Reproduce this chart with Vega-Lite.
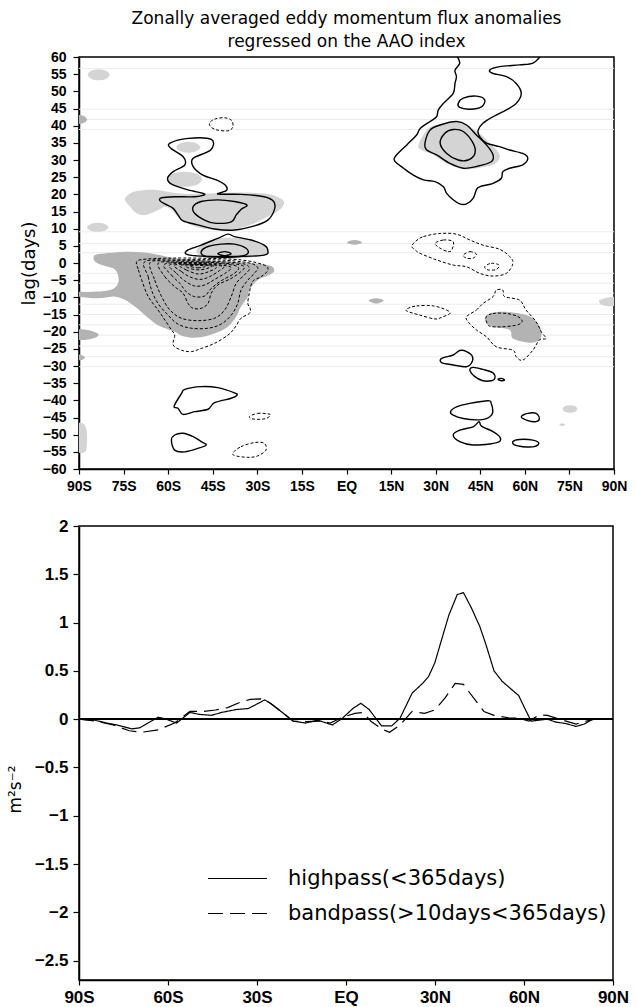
{
  "$schema": "https://vega.github.io/schema/vega-lite/v6.json",
  "background": "white",
  "padding": {"left": 5, "top": 9, "right": 5, "bottom": 5},
  "spacing": 22,
  "config": {
    "view": {"stroke": "black", "strokeWidth": 1.5},
    "axis": {"domainColor": "black", "domainWidth": 1.5, "tickColor": "black", "tickWidth": 1.2, "labelColor": "black", "titleColor": "black", "grid": false, "labelFont": "Liberation Sans", "labelFontWeight": "bold", "titleFont": "DejaVu Sans", "titleFontWeight": "normal", "labelFlush": false, "labelOverlap": false}
  },
  "datasets": {
    "faint": [{"lag": 56.7}, {"lag": 44.8}, {"lag": 41.8}, {"lag": 38.9}, {"lag": 9.1}, {"lag": 5.7}, {"lag": 3.0}, {"lag": -3.0}, {"lag": -5.9}, {"lag": -8.8}, {"lag": -12}, {"lag": -15}, {"lag": -18}, {"lag": -21}, {"lag": -24.2}, {"lag": -27.3}, {"lag": -30.2}],
    "light": [
      {"id": "L1", "lat": [-87.1, -86.0, -83.4, -80.8, -79.7, -80.8, -83.4, -86.0], "lag": [54.8, 55.9, 56.4, 55.9, 54.8, 53.7, 53.2, 53.7]},
      {"id": "L2", "lat": [-57.2, -56, -53.2, -50.4, -49.2, -50.4, -53.2, -56], "lag": [33.7, 34.8, 35.3, 34.8, 33.7, 32.6, 32.1, 32.6]},
      {"id": "L3", "lat": [-60.4, -58.7, -54.5, -50.3, -48.6, -50.3, -54.5, -58.7], "lag": [24.4, 26, 26.6, 26, 24.4, 22.8, 22.2, 22.8]},
      {"id": "L4", "lat": [-87.3, -86.2, -83.7, -81.2, -80.1, -81.2, -83.7, -86.2], "lag": [10.4, 11.3, 11.7, 11.3, 10.4, 9.5, 9.1, 9.5]},
      {"id": "L5", "lat": [-74.5, -71.2, -64.5, -58.9, -53.3, -44.4, -35.5, -26.5, -21.5, -21.5, -24.3, -28.8, -33.2, -39.9, -46.6, -52.2, -56.7, -58.9, -61.1, -63.4, -67.8, -70.6, -72.8], "lag": [18.8, 20.8, 21.3, 20.5, 20.1, 20.3, 20.5, 20.1, 18.4, 16.4, 14.5, 12.5, 10.8, 9.6, 9.8, 11.1, 13.5, 15.6, 16.4, 15.4, 14.0, 14.5, 16.4]},
      {"id": "L6", "lat": [-50.5, -47.7, -42.2, -35.5, -29.3, -26.5, -27.1, -35.5, -46.6], "lag": [3.3, 5.7, 7.2, 7.2, 6.2, 4.3, 2.3, 1.4, 1.4]},
      {"id": "L7", "lat": [-90, -88.3, -87.4, -87.3, -87.6, -88.5, -90, -92, -92], "lag": [-46.5, -47, -49, -52, -54.5, -55.3, -55.3, -55, -47]},
      {"id": "L8", "lat": [24.2, 27.0, 30.3, 37.0, 40.4, 44.8, 48.2, 51.0, 51.5, 49.3, 43.7, 39.3, 33.7, 29.2, 25.3], "lag": [34.4, 38.7, 40.2, 40.9, 40.2, 37.8, 34.9, 32.4, 30.5, 28.6, 27.6, 27.3, 29.0, 31.5, 32.9]},
      {"id": "L9", "lat": [90, 87.5, 85.2, 85, 85.5, 87.5, 90, 92, 92], "lag": [-9.8, -10.1, -10.8, -11.2, -12, -12.5, -12.5, -12, -10]},
      {"id": "L10", "lat": [72.7, 73.5, 75.2, 76.9, 77.7, 76.9, 75.2, 73.5], "lag": [-42.5, -41.7, -41.4, -41.7, -42.5, -43.3, -43.6, -43.3]},
      {"id": "L11", "lat": [71.6, 72.6, 73.6, 72.6], "lag": [-47.1, -46.7, -47.1, -47.5]}
    ],
    "dark": [
      {"id": "D1", "lat": [-90, -88.1, -87.3, -88.1, -90, -92, -92], "lag": [43.1, 42.7, 41.8, 40.9, 40.5, 41, 42.6]},
      {"id": "D2", "lat": [-85.1, -83.4, -73.4, -65.6, -57.8, -48.9, -37.7, -26.5, -24.3, -26.0, -29.9, -32.7, -33.2, -35.5, -37.1, -39.9, -44.4, -50.0, -55.0, -57.8, -63.4, -67.8, -71.2, -74.5, -77.8, -83.4, -90, -92, -92, -90, -85.7, -79.0, -76.7, -77.8, -82.3, -84.5], "lag": [1.6, 2.6, 3.3, 2.8, 1.4, 0.9, 0.4, -0.6, -2.2, -3.5, -5.0, -7.9, -9.8, -12.7, -15.6, -18.6, -20.5, -21.7, -21.3, -20.0, -18.1, -15.2, -12.7, -10.8, -9.8, -10.3, -9.8, -9.5, -8.4, -8.4, -8.4, -7.7, -5.4, -2.0, -0.6, 0.4]},
      {"id": "D3", "lat": [-90, -87, -84.2, -83.4, -84.2, -87, -90, -92, -92], "lag": [-19.3, -19.5, -20.3, -20.9, -21.6, -22.3, -22.4, -21.5, -20]},
      {"id": "D4", "lat": [-90, -88.7, -88, -88.7, -90, -91], "lag": [-26.7, -27, -27.5, -28.1, -28.3, -27.5]},
      {"id": "D5", "lat": [0.2, 1.2, 2.7, 4.2, 5.2, 4.2, 2.7, 1.2], "lag": [6.0, 6.5, 6.7, 6.5, 6.0, 5.5, 5.3, 5.5]},
      {"id": "D6", "lat": [7.5, 8.5, 10, 11.5, 12.5, 11.5, 10, 8.5], "lag": [-11, -10.5, -10.3, -10.5, -11, -11.5, -11.8, -11.5]},
      {"id": "D7", "lat": [47.1, 51.5, 58.2, 62.7, 65.5, 64.9, 61.6, 56.0, 54.9, 49.3, 46.8], "lag": [-15.2, -14.2, -14.7, -16.1, -19.5, -22.4, -23.2, -22.0, -19.5, -18.6, -17.1]}
    ],
    "solid": [
      {"id": "S1", "lat": [-59.4, -53.3, -45.5, -45.7, -51.6, -51.6, -48.3, -43.8, -40.8, -40.4, -43.3, -35.5, -27.7, -24.5, -24.3, -26.5, -31.0, -37.7, -44.4, -50.0, -55.0, -56.7, -58.3, -61.1, -62.8, -62.2, -57.8, -51.1, -47.7, -53.3, -58.9, -60.2, -58.3, -54.4, -55.0, -59.1], "lag": [34.9, 36.3, 36.0, 32.9, 30.5, 28.1, 25.6, 24.2, 22.7, 21.1, 20.1, 20.0, 19.3, 17.9, 15.4, 12.5, 10.8, 9.6, 9.9, 11.1, 12.3, 14.0, 15.9, 17.2, 18.2, 19.0, 19.3, 19.3, 20.1, 21.3, 23.0, 24.7, 26.6, 28.6, 31.0, 33.4]},
      {"id": "S2", "lat": [-51.6, -48.9, -43.3, -37.7, -33.5, -35.5, -37.1, -38.8, -44.4, -47.7, -51.1], "lag": [16.4, 17.9, 18.4, 17.9, 16.9, 15.6, 14.0, 12.0, 11.6, 12.5, 14.5]},
      {"id": "S3", "lat": [-53.9, -53.3, -48.9, -43.3, -39.9, -37.7, -32.1, -27.7, -26.5, -27.7, -37.7, -48.9], "lag": [2.6, 3.8, 5.2, 7.2, 8.4, 7.7, 6.7, 5.2, 3.8, 2.3, 1.9, 2.0]},
      {"id": "S4", "lat": [-48.9, -46.6, -42.2, -37.7, -33.8, -33.2, -36.0, -43.3, -47.7], "lag": [3.3, 4.8, 5.5, 5.5, 4.3, 2.8, 1.9, 1.7, 2.0]},
      {"id": "S5", "lat": [-43.3, -41, -38.8, -41], "lag": [2.7, 3.3, 2.7, 2.1]},
      {"id": "S6", "lat": [-55.5, -54.4, -48.9, -43.3, -37.7, -36.8, -38.8, -44.4, -46.6, -51.1, -55.0, -56.7, -58.0], "lag": [-38.0, -36.8, -36.0, -36.3, -37.8, -38.5, -39.4, -40.7, -42.6, -43.3, -44.1, -42.3, -41.7]},
      {"id": "S7", "lat": [-58.9, -57.8, -55.0, -51.6, -48.9, -47.2, -50.0, -54.4, -57.8], "lag": [-51.6, -50.1, -49.6, -50.6, -52.0, -53.0, -54.0, -55.0, -54.5]},
      {"id": "S8", "lat": [26.4, 28.1, 31.5, 37.0, 40.4, 43.7, 47.1, 49.3, 48.7, 43.7, 39.3, 34.8, 30.3, 27.0], "lag": [34.9, 38.7, 40.2, 41.2, 40.2, 37.3, 34.4, 31.5, 29.5, 28.1, 27.6, 29.0, 31.5, 32.9]},
      {"id": "S9", "lat": [31.5, 33.1, 35.9, 39.3, 42.6, 43.2, 40.9, 37.6, 33.7], "lag": [34.9, 37.8, 38.9, 38.3, 34.9, 31.9, 30.0, 30.0, 31.9]},
      {"id": "S10", "lat": [37.6, 39.3, 43.7, 46.5, 45.4, 41.5, 38.1], "lag": [46.5, 48.0, 48.6, 47.5, 45.5, 44.8, 45.3]},
      {"id": "S11", "lat": [32.0, 35.9, 38.1, 40.4, 42.4, 42.0, 40.4, 35.9, 32.0], "lag": [-27.8, -26.8, -25.5, -25.8, -27.3, -29.2, -30.2, -29.7, -29.0]},
      {"id": "S12", "lat": [41.5, 42.6, 45.9, 49.3, 49.9, 48.7, 45.9, 43.2], "lag": [-31.2, -30.4, -31.0, -32.0, -33.6, -34.3, -34.3, -33.1]},
      {"id": "S13", "lat": [51.0, 52.1, 53.2, 52.1], "lag": [-33.9, -33.6, -34.1, -34.3]},
      {"id": "S14", "lat": [35.0, 37.0, 41.5, 47.6, 48.7, 49.1, 47.1, 43.7, 39.3, 35.9], "lag": [-43.3, -41.9, -40.9, -40.1, -40.9, -43.8, -45.3, -45.7, -45.3, -44.3]},
      {"id": "S15", "lat": [35.9, 38.1, 42.6, 44.6, 45.4, 49.3, 51.5, 51.5, 48.2, 42.6, 38.1], "lag": [-50.1, -48.7, -47.7, -46.2, -47.5, -49.1, -50.6, -52.0, -52.7, -53.0, -52.0]},
      {"id": "S16", "lat": [58.8, 61.0, 63.8, 64.9, 63.8, 61.0], "lag": [-44.8, -43.8, -43.8, -45.3, -46.2, -45.9]},
      {"id": "S17", "lat": [56.0, 58.2, 62.7, 64.7, 63.2, 59.3, 56.5], "lag": [-52.0, -51.4, -51.6, -52.5, -53.5, -53.5, -53.0]}
    ],
    "solidopen": [
      {"id": "N1", "lat": [37.0, 38.1, 36.5, 37.0, 36.5, 35.9, 32.6, 30.9, 30.3, 28.1, 24.8, 23.6, 20.3, 16.4, 16.4, 19.2, 22.5, 25.9, 29.8, 32.6, 33.7, 35.9, 38.1, 40.4, 42.6, 43.7, 44.8, 49.3, 52.1, 52.6, 54.9, 59.3, 61.0, 59.3, 54.9, 51.5, 47.1, 44.8, 44.3, 45.9, 49.3, 53.8, 57.1, 58.8, 57.1, 53.8, 49.3, 48.2, 51.5, 58.2, 62.7, 65.5], "lag": [60.5, 58.2, 56.2, 54.3, 52.3, 49.4, 46.5, 44.6, 42.6, 41.2, 39.2, 37.3, 34.4, 31.0, 29.5, 27.6, 25.6, 24.2, 23.7, 22.2, 20.3, 18.4, 17.2, 17.2, 18.8, 21.3, 22.2, 23.2, 24.7, 26.6, 27.6, 28.6, 30.5, 31.9, 32.9, 33.9, 34.9, 36.8, 38.7, 40.7, 42.6, 44.6, 46.5, 49.4, 52.3, 54.3, 55.2, 56.2, 57.2, 57.7, 58.2, 60.5]}
    ],
    "dashed": [
      {"id": "A", "lat": [-70.6, -70.0, -68.9, -66.7, -63.4, -61.1, -58.9, -57.8, -58.3, -55.5, -52.2, -48.9, -44.4, -39.9, -37.7, -35.5, -32.7, -32.4, -33.2, -32.7, -31.6, -28.8, -26.5, -27.7, -35.5, -48.9, -60.0, -67.8], "lag": [0.4, -2.0, -5.0, -9.8, -13.7, -16.6, -19.5, -21.0, -23.9, -25.4, -25.8, -24.9, -23.4, -21.0, -19.0, -16.1, -14.7, -13.2, -11.8, -8.8, -5.4, -4.0, -2.2, -0.6, 0.9, 1.4, 1.4, 1.1]},
      {"id": "B", "lat": [-67.8, -66.7, -65.6, -63.4, -60.0, -56.7, -52.2, -46.6, -42.2, -38.8, -36.6, -35.5, -33.2, -31.0, -29.9, -33.2, -43.3, -57.8], "lag": [0.4, -4.0, -7.9, -11.8, -15.2, -17.8, -19.0, -19.0, -17.8, -15.2, -11.8, -7.9, -5.0, -3.0, -1.3, 0.1, 0.9, 0.9]},
      {"id": "C", "lat": [-66.1, -64.5, -62.2, -59.4, -55.5, -50.0, -44.4, -41.0, -38.8, -37.1, -34.4, -32.7, -35.5, -48.9, -60.0], "lag": [0.1, -5.0, -9.8, -13.7, -16.1, -16.8, -16.1, -13.7, -9.8, -5.9, -3.5, -1.6, -0.1, 0.6, 0.6]},
      {"id": "D", "lat": [-63.4, -61.1, -57.8, -55.0, -53.3, -51.6, -48.9, -46.6, -45.5, -43.3, -38.8, -35.5, -34.4, -37.7, -48.9, -57.8], "lag": [-0.1, -4.0, -6.9, -8.8, -11.8, -13.2, -13.2, -11.8, -8.8, -6.4, -4.5, -2.5, -1.1, -0.3, 0.3, 0.3]},
      {"id": "E", "lat": [-61.1, -58.9, -56.1, -53.9, -51.1, -47.7, -45.5, -42.2, -37.7, -36.4, -39.9, -50.0], "lag": [-0.3, -3.5, -5.9, -8.4, -9.8, -9.6, -7.4, -5.2, -3.0, -1.3, -0.4, 0.1]},
      {"id": "F", "lat": [-59.4, -57.2, -54.4, -51.1, -47.7, -44.4, -40.5, -38.8, -42.2, -50.0], "lag": [-0.5, -3.0, -5.2, -6.7, -6.4, -4.8, -2.8, -1.3, -0.6, -0.1]},
      {"id": "G", "lat": [-57.8, -55.5, -52.8, -49.4, -46.1, -42.7, -41.3, -44.4, -50.0], "lag": [-0.6, -2.5, -4.0, -4.8, -4.0, -2.2, -1.1, -0.6, -0.3]},
      {"id": "H", "lat": [-56.1, -53.9, -50.0, -46.6, -43.8, -46.6, -51.6], "lag": [-0.7, -2.0, -3.2, -2.6, -1.3, -0.6, -0.5]},
      {"id": "I", "lat": [-54.4, -52.2, -49.4, -46.6, -45.5, -48.9, -52.8], "lag": [-0.8, -1.7, -2.0, -1.5, -0.9, -0.5, -0.5]},
      {"id": "J", "lat": [-52.8, -50.0, -47.5, -50.0], "lag": [-0.9, -1.4, -1.0, -0.6]},
      {"id": "Q1", "lat": [-46.1, -44.4, -41.0, -38.6, -38.3, -39.9, -43.3, -45.5], "lag": [40.7, 41.9, 42.3, 41.5, 39.5, 38.5, 38.7, 39.5]},
      {"id": "Q2", "lat": [-32.7, -29.9, -25.7, -27.1, -31.0], "lag": [-44.8, -43.8, -44.1, -45.3, -45.5]},
      {"id": "Q3", "lat": [-38.3, -35.5, -31.0, -27.7, -27.1, -29.9, -33.2, -37.1], "lag": [-55.4, -53.5, -52.3, -52.5, -54.5, -56.2, -56.6, -56.2]},
      {"id": "R1", "lat": [23.1, 25.9, 31.5, 37.0, 41.5, 45.9, 51.5, 54.9, 56.0, 53.8, 49.3, 44.8, 40.4, 35.9, 30.3, 24.8, 23.1, 22.0], "lag": [6.2, 7.7, 8.6, 8.4, 6.7, 5.2, 4.0, 1.9, -0.1, -3.0, -3.8, -3.0, -1.1, -0.6, 0.9, 2.8, 3.8, 4.8]},
      {"id": "R2", "lat": [29.8, 32.6, 35.9, 35.4, 34.2, 31.5], "lag": [5.7, 6.7, 6.2, 3.8, 3.3, 4.3]},
      {"id": "R3", "lat": [39.3, 41.5, 43.7, 42.6, 40.4], "lag": [2.3, 3.3, 2.6, 1.4, 1.4]},
      {"id": "R4", "lat": [46.5, 48.7, 51.3, 50.4, 47.6], "lag": [-1.1, -0.1, -0.6, -1.9, -2.0]},
      {"id": "R5", "lat": [20.1, 23.6, 29.2, 33.7, 34.8, 32.6, 29.8, 24.8, 20.9], "lag": [-13.5, -12.5, -12.5, -13.7, -14.7, -15.6, -16.3, -15.2, -14.2]},
      {"id": "R6", "lat": [40.4, 43.7, 45.9, 49.3, 50.4, 52.6, 53.2, 58.2, 60.4, 63.8, 65.5, 67.1, 64.9, 62.7, 59.3, 57.1, 56.0, 50.4, 47.1, 43.7, 40.9], "lag": [-15.6, -13.7, -11.8, -9.8, -7.9, -7.9, -9.8, -10.8, -13.7, -17.1, -20.0, -22.0, -22.4, -25.4, -28.3, -27.3, -25.4, -24.4, -21.5, -19.5, -17.1]},
      {"id": "R7", "lat": [47.1, 49.3, 53.8, 57.7, 59.1, 57.1, 52.1, 48.2, 47.1], "lag": [-15.6, -14.7, -14.7, -15.6, -17.1, -18.1, -18.6, -18.4, -17.1]}
    ],
    "profile": [
      {"series": "highpass(<365days)", "lat": [-90, -84.8, -80.6, -77.2, -72.3, -69.6, -66.8, -63.3, -60.6, -57.1, -52.6, -49.5, -45.4, -41.9, -37.1, -33.0, -29.5, -27.4, -25.4, -21.9, -17.8, -13.6, -9.5, -4.6, -1.2, 2.3, 5.0, 7.8, 12.0, 15.4, 18.2, 22.3, 25.8, 27.8, 29.9, 32.0, 34.7, 37.5, 39.6, 42.3, 45.1, 47.2, 49.9, 52.7, 56.1, 58.2, 60.3, 62.4, 65.1, 67.9, 70.7, 74.1, 77.6, 80.3, 83.1], "value": [0, -0.01, -0.04, -0.06, -0.10, -0.09, -0.04, 0.02, 0.0, -0.04, 0.07, 0.05, 0.04, 0.07, 0.10, 0.11, 0.165, 0.20, 0.165, 0.08, -0.02, -0.04, -0.01, -0.06, 0.01, 0.11, 0.165, 0.10, -0.07, -0.07, 0.01, 0.27, 0.37, 0.44, 0.58, 0.80, 1.08, 1.29, 1.31, 1.15, 0.96, 0.77, 0.50, 0.39, 0.30, 0.245, 0.11, -0.02, -0.01, 0.0, -0.03, -0.045, -0.075, -0.05, 0.0]},
      {"series": "bandpass(>10days<365days)", "lat": [-90, -84.1, -78.5, -73.0, -68.9, -63.3, -57.8, -52.6, -48.1, -44.0, -39.9, -35.7, -32.3, -28.8, -26.0, -21.9, -17.8, -13.6, -8.8, -5.3, -1.2, 3.0, 5.7, 8.5, 12.6, 14.7, 18.2, 22.3, 26.5, 29.9, 33.4, 36.8, 39.6, 43.0, 46.5, 49.9, 54.8, 58.2, 61.7, 65.1, 67.9, 72.0, 77.6, 80.3, 83.8], "value": [0, -0.02, -0.06, -0.12, -0.135, -0.11, -0.04, 0.08, 0.08, 0.095, 0.12, 0.175, 0.205, 0.21, 0.175, 0.08, -0.02, -0.025, -0.02, -0.04, 0.02, 0.06, 0.07, -0.025, -0.11, -0.135, -0.06, 0.08, 0.06, 0.095, 0.22, 0.37, 0.36, 0.22, 0.08, 0.04, 0.015, 0.01, -0.02, 0.045, 0.04, 0.0, -0.05, -0.025, 0.0]}
    ]
  },
  "vconcat": [
    {
      "width": 535,
      "height": 412,
      "title": {"text": ["Zonally averaged eddy momentum flux anomalies", "regressed on the AAO index"], "font": "DejaVu Sans", "fontSize": 17, "fontWeight": "normal", "lineHeight": 23, "offset": -1, "anchor": "middle", "color": "black"},
      "encoding": {
        "y": {"field": "lag", "type": "quantitative", "scale": {"domain": [-60, 60], "nice": false, "zero": false},
          "axis": {"values": [60, 55, 50, 45, 40, 35, 30, 25, 20, 15, 10, 5, 0, -5, -10, -15, -20, -25, -30, -35, -40, -45, -50, -55, -60], "format": "d", "title": "lag(days)", "titleFontSize": 18, "titlePadding": 4, "labelFontSize": 14, "tickSize": 6, "labelPadding": 7, "labelOverlap": false}}
      },
      "layer": [
        {
          "data": {"name": "faint"},
          "mark": {"type": "rule", "color": "#ebebeb", "strokeWidth": 1}
        },
        {
          "data": {"name": "light"},
          "transform": [{"flatten": ["lat", "lag"]}],
          "mark": {"type": "line", "interpolate": "cardinal-closed", "fill": "#d4d4d4", "strokeOpacity": 0, "clip": true},
          "encoding": {
            "x": {"field": "lat", "type": "quantitative", "scale": {"domain": [-90, 90], "nice": false, "zero": false},
              "axis": {"values": [-90, -75, -60, -45, -30, -15, 0, 15, 30, 45, 60, 75, 90], "labelExpr": "datum.value < 0 ? (-datum.value) + 'S' : (datum.value > 0 ? datum.value + 'N' : 'EQ')", "title": null, "labelFontSize": 14, "tickSize": 5, "labelPadding": 5, "labelOverlap": false}},
            "detail": {"field": "id"},
            "order": {"value": null}
          }
        },
        {
          "data": {"name": "dark"},
          "transform": [{"flatten": ["lat", "lag"]}],
          "mark": {"type": "line", "interpolate": "cardinal-closed", "fill": "#b3b3b3", "strokeOpacity": 0, "clip": true},
          "encoding": {
            "x": {"field": "lat", "type": "quantitative"},
            "detail": {"field": "id"},
            "order": {"value": null}
          }
        },
        {
          "data": {"name": "dashed"},
          "transform": [{"flatten": ["lat", "lag"]}],
          "mark": {"type": "line", "interpolate": "cardinal-closed", "color": "black", "strokeWidth": 1, "strokeDash": [3, 2], "clip": true},
          "encoding": {
            "x": {"field": "lat", "type": "quantitative"},
            "detail": {"field": "id"},
            "order": {"value": null}
          }
        },
        {
          "data": {"name": "solid"},
          "transform": [{"flatten": ["lat", "lag"]}],
          "mark": {"type": "line", "interpolate": "cardinal-closed", "color": "black", "strokeWidth": 1.4, "clip": true},
          "encoding": {
            "x": {"field": "lat", "type": "quantitative"},
            "detail": {"field": "id"},
            "order": {"value": null}
          }
        },
        {
          "data": {"name": "solidopen"},
          "transform": [{"flatten": ["lat", "lag"]}],
          "mark": {"type": "line", "interpolate": "cardinal", "color": "black", "strokeWidth": 1.4, "clip": true},
          "encoding": {
            "x": {"field": "lat", "type": "quantitative"},
            "detail": {"field": "id"},
            "order": {"value": null}
          }
        }
      ]
    },
    {
      "width": 534,
      "height": 454,
      "data": {"name": "profile"},
      "transform": [{"flatten": ["lat", "value"]}],
      "layer": [
        {
          "mark": {"type": "line", "color": "black", "strokeWidth": 1.2, "clip": true},
          "encoding": {
            "x": {"field": "lat", "type": "quantitative", "scale": {"domain": [-90, 90], "nice": false, "zero": false},
              "axis": {"values": [-90, -60, -30, 0, 30, 60, 90], "labelExpr": "datum.value < 0 ? (-datum.value) + 'S' : (datum.value > 0 ? datum.value + 'N' : 'EQ')", "title": null, "labelFontSize": 17, "tickSize": 5, "labelPadding": 4, "labelOverlap": false}},
            "y": {"field": "value", "type": "quantitative", "scale": {"domain": [-2.7, 2], "nice": false, "zero": false},
              "axis": {"values": [2, 1.5, 1, 0.5, 0, -0.5, -1, -1.5, -2, -2.5], "format": "~g", "title": "m²s⁻²", "titleFontSize": 17, "titleY": 263, "titlePadding": 10, "labelFontSize": 17, "tickSize": 6, "labelPadding": 5, "labelOverlap": false}},
            "strokeDash": {"field": "series", "type": "nominal",
              "scale": {"domain": ["highpass(<365days)", "bandpass(>10days<365days)"], "range": [[1, 0], [15, 7]]},
              "legend": {"title": null, "orient": "none", "legendX": 148, "legendY": 811, "symbolType": "M-3,0H3", "symbolSize": 387, "symbolStrokeWidth": 1.2, "symbolStrokeColor": "black", "symbolFillColor": "transparent", "labelFont": "DejaVu Sans", "labelFontSize": 21, "labelFontWeight": "normal", "labelColor": "black", "labelOffset": 40, "rowPadding": 13, "padding": 0, "labelLimit": 600}}
          }
        },
        {
          "mark": {"type": "rule", "color": "black", "strokeWidth": 1.5},
          "encoding": {"y": {"datum": 0, "type": "quantitative"}}
        }
      ]
    }
  ]
}
